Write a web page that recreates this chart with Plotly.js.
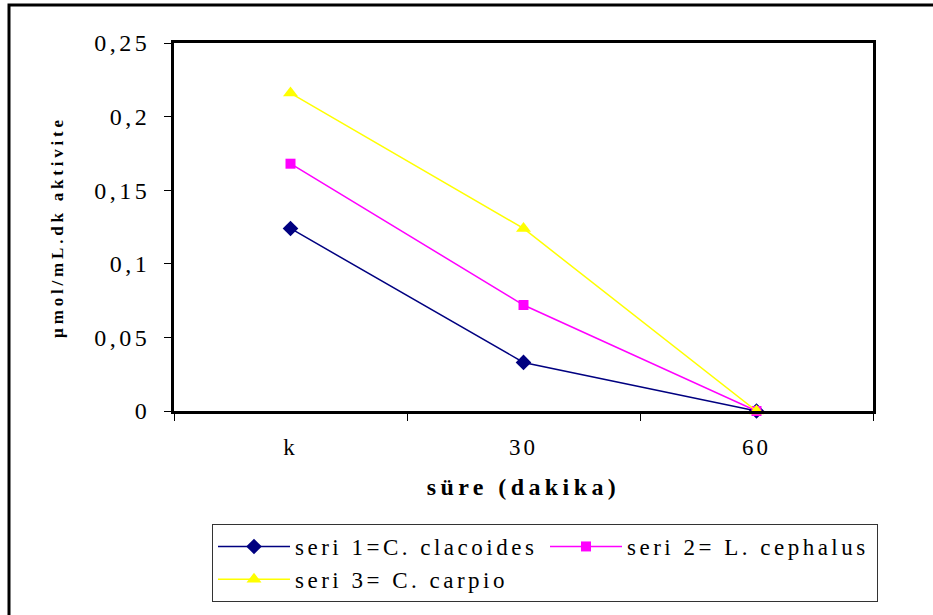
<!DOCTYPE html>
<html>
<head>
<meta charset="utf-8">
<script src="https://cdn.plot.ly/plotly-3.0.1.min.js"></script>
<style>
html,body{margin:0;padding:0;background:#fff;}
#chart{width:933px;height:615px;}
#chart .ytick text{letter-spacing:3.5px;}
#chart .xtick text{letter-spacing:3px;}
#chart text.xtitle{letter-spacing:4.4px;}
#chart text.ytitle{letter-spacing:3.8px;}
#chart text.legendtext{letter-spacing:3.5px;}
</style>
</head>
<body>
<div id="chart"></div>
<script>
var categories = ["k", "30", "60"];
var seri1 = [0.124, 0.033, 0];
var seri2 = [0.168, 0.072, 0];
var seri3 = [0.216, 0.124, 0];
var seriesNames = ["seri 1=C. clacoides", "seri 2= L. cephalus", "seri 3= C. carpio"];
var yTickVals = [0, 0.05, 0.1, 0.15, 0.2, 0.25];
var yTickText = ["0", "0,05", "0,1", "0,15", "0,2", "0,25"];

var serif = "Liberation Serif, Times New Roman, serif";

var traces = [
  {x: categories, y: seri1, name: seriesNames[0], type: "scatter", mode: "lines+markers",
   line: {color: "#000080", width: 1.5}, marker: {symbol: "diamond", size: 12, color: "#000080"}, cliponaxis: false},
  {x: categories, y: seri2, name: seriesNames[1], type: "scatter", mode: "lines+markers",
   line: {color: "#FF00FF", width: 1.5}, marker: {symbol: "square", size: 10, color: "#FF00FF"}, cliponaxis: false},
  {x: categories, y: seri3, name: seriesNames[2], type: "scatter", mode: "lines+markers",
   line: {color: "#FFFF00", width: 1.5}, marker: {symbol: "triangle-up", size: 13, color: "#FFFF00"}, cliponaxis: false}
];

var L = 174, R = 60, T = 43, B = 204, W = 933, H = 615;
var pw = W - L - R, ph = H - T - B;

var layout = {
  width: W, height: H,
  margin: {l: L, r: R, t: T, b: B},
  paper_bgcolor: "#fff", plot_bgcolor: "#fff",
  font: {family: serif, size: 24, color: "#000"},
  showlegend: true,
  xaxis: {
    type: "category", range: [-0.5, 2.5], tickson: "boundaries",
    showline: true, linecolor: "#000", linewidth: 3, mirror: true,
    ticks: "outside", ticklen: 7, tickwidth: 1, tickcolor: "#000",
    showgrid: false, zeroline: false, fixedrange: true,
    ticklabelstandoff: 13,
    tickfont: {family: serif, size: 23},
    title: {text: "süre (dakika)", font: {family: serif, size: 24, color: "#000", weight: "bold"}, standoff: 20}
  },
  yaxis: {
    range: [0, 0.25], tickvals: yTickVals, ticktext: yTickText,
    showline: true, linecolor: "#000", linewidth: 3, mirror: true,
    ticks: "outside", ticklen: 7, tickwidth: 1, tickcolor: "#000",
    showgrid: false, zeroline: false, fixedrange: true,
    ticklabelstandoff: 9,
    tickfont: {family: serif, size: 24},
    title: {text: "µmol/mL.dk aktivite", font: {family: serif, size: 17, color: "#000", weight: "bold"}, standoff: 41}
  },
  legend: {
    orientation: "h", x: (212 - L) / pw, xanchor: "left", y: -(524 - T - ph) / ph, yanchor: "top",
    bordercolor: "#333", borderwidth: 1, bgcolor: "#fff",
    font: {family: serif, size: 23, color: "#000"},
    entrywidth: 245, entrywidthmode: "pixels", itemwidth: 72
  },
  shapes: [{
    type: "rect", xref: "paper", yref: "paper",
    x0: (9 - L) / pw, x1: (W + 10 - L) / pw,
    y0: -(H + 10 - T - ph) / ph, y1: 1 + (T - 5) / ph,
    line: {color: "#000", width: 3}, fillcolor: "rgba(0,0,0,0)", layer: "below"
  }]
};

Plotly.newPlot("chart", traces, layout, {displayModeBar: false, staticPlot: true});
</script>
</body>
</html>
